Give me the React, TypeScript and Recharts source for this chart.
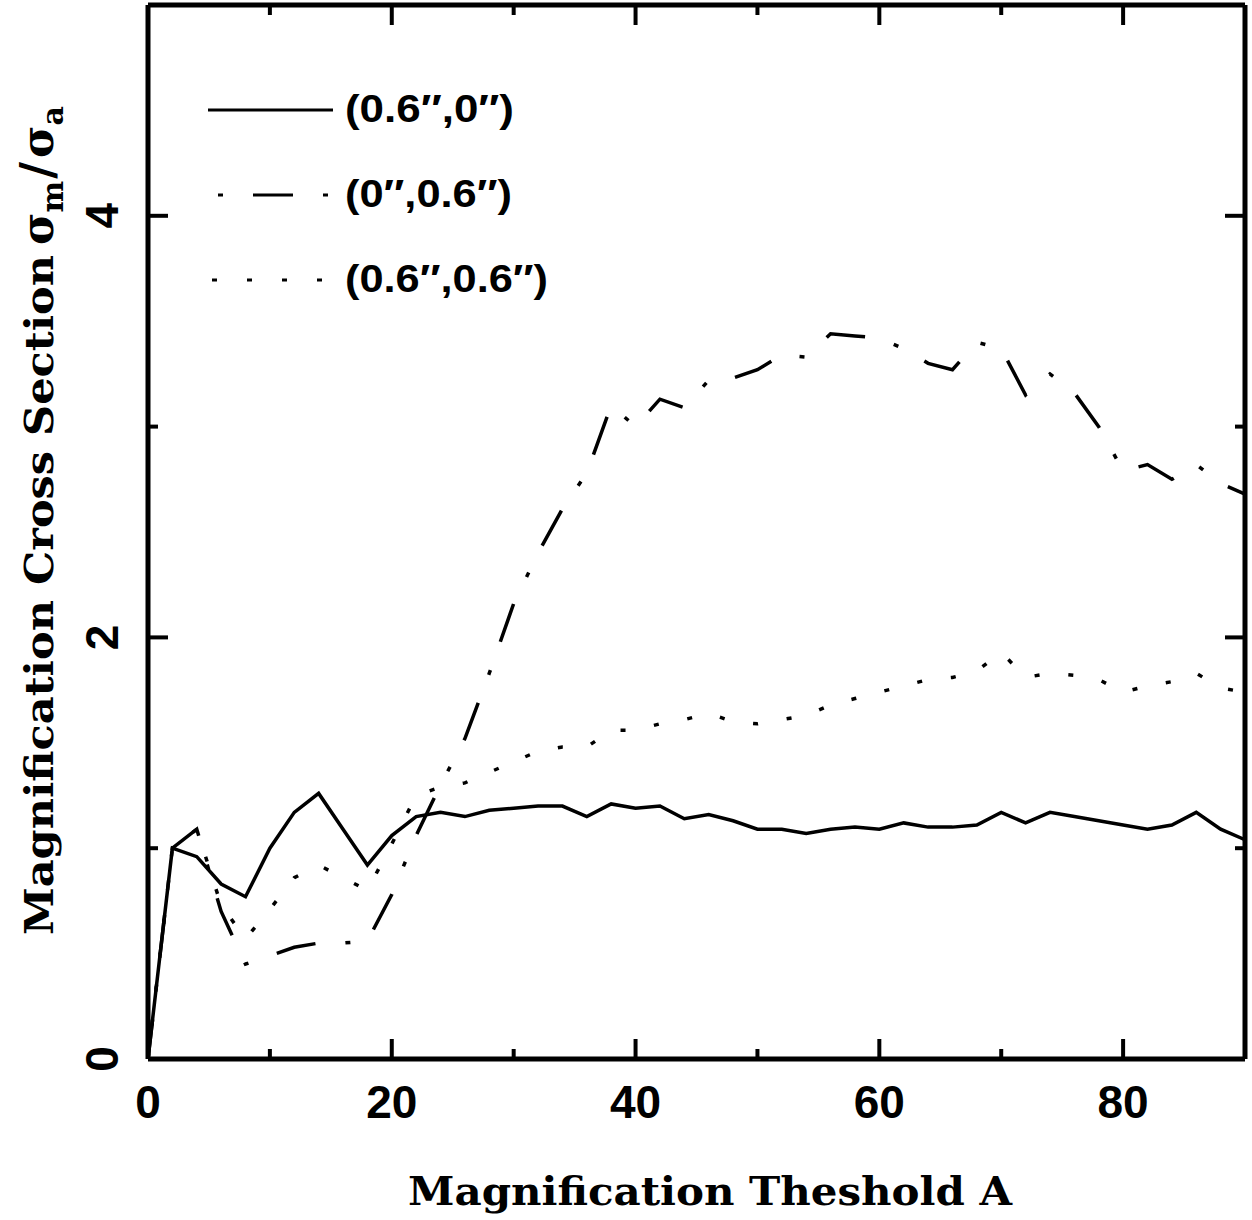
import React from "react";
import { Legend, Line, LineChart, XAxis, YAxis } from "recharts";

// magnification threshold A, sampled every 2
const THRESHOLD = [
  0, 2, 4, 6, 8, 10, 12, 14, 16, 18, 20, 22, 24, 26, 28, 30, 32, 34, 36, 38,
  40, 42, 44, 46, 48, 50, 52, 54, 56, 58, 60, 62, 64, 66, 68, 70, 72, 74, 76,
  78, 80, 82, 84, 86, 88, 90,
];

// (0.6",0") - solid
const SOLID = [
  0, 1.0, 0.96, 0.83, 0.77, 1.0, 1.17, 1.26, 1.09, 0.92, 1.06, 1.15, 1.17,
  1.15, 1.18, 1.19, 1.2, 1.2, 1.15, 1.21, 1.19, 1.2, 1.14, 1.16, 1.13, 1.09,
  1.09, 1.07, 1.09, 1.1, 1.09, 1.12, 1.1, 1.1, 1.11, 1.17, 1.12, 1.17, 1.15,
  1.13, 1.11, 1.09, 1.11, 1.17, 1.09, 1.04,
];

// (0",0.6") - dot / long dash
const DASH_DOT = [
  0, 1.0, 1.09, 0.7, 0.45, 0.49, 0.53, 0.55, 0.55, 0.56, 0.78, 1.06, 1.3,
  1.52, 1.83, 2.16, 2.4, 2.61, 2.78, 3.1, 3.0, 3.13, 3.09, 3.22, 3.23, 3.27,
  3.34, 3.33, 3.44, 3.43, 3.42, 3.37, 3.3, 3.27, 3.4, 3.37, 3.15, 3.25, 3.16,
  3.0, 2.79, 2.82, 2.75, 2.82, 2.73, 2.68,
];

// (0.6",0.6") - dotted
const DOTTED = [
  0, 1.0, 1.09, 0.73, 0.57, 0.71, 0.86, 0.92, 0.86, 0.8, 1.02, 1.25, 1.29,
  1.31, 1.36, 1.41, 1.46, 1.48, 1.48, 1.56, 1.56, 1.59, 1.61, 1.64, 1.6, 1.59,
  1.61, 1.63, 1.68, 1.71, 1.74, 1.77, 1.8, 1.81, 1.84, 1.93, 1.81, 1.83, 1.82,
  1.8, 1.74, 1.77, 1.79, 1.83, 1.76, 1.74,
];

const X_TICKS = [0, 10, 20, 30, 40, 50, 60, 70, 80];
const Y_TICKS = [0, 1, 2, 3, 4];

const SERIES = [
  { key: "solid", name: "(0.6″,0″)", dash: undefined, legendDash: undefined, x1: 8, width: 169 },
  { key: "dashdot", name: "(0″,0.6″)", dash: "40 30 5 30", legendDash: "5 30 40 30", x1: 18, width: 167 },
  { key: "dotted", name: "(0.6″,0.6″)", dash: "5 29", legendDash: "5 30", x1: 12, width: 203 },
];

const data = THRESHOLD.map((a, i) => ({
  a,
  solid: SOLID[i],
  dashdot: DASH_DOT[i],
  dotted: DOTTED[i],
}));

const NUM_FONT = "'Liberation Sans', Arial, sans-serif";
const TITLE_FONT = "'DejaVu Serif', serif";
const FRAME = { stroke: "#000", strokeWidth: 5 };

const BottomTick = ({ x, y, payload }: any) => {
  const major = payload.value % 20 === 0;
  return (
    <g>
      <line x1={x} x2={x} y1={y} y2={y - (major ? 20 : 10)} stroke="#000" strokeWidth={4} />
      {major && (
        <text x={x} y={y + 59} textAnchor="middle" fontFamily={NUM_FONT} fontWeight="bold" fontSize={46} fill="#000">
          {payload.value}
        </text>
      )}
    </g>
  );
};

const TopTick = ({ x, y, payload }: any) => {
  const major = payload.value % 20 === 0;
  return <line x1={x} x2={x} y1={y} y2={y + (major ? 20 : 10)} stroke="#000" strokeWidth={4} />;
};

const LeftTick = ({ x, y, payload }: any) => {
  const major = payload.value % 2 === 0;
  const lx = x - 30;
  return (
    <g>
      <line x1={x} x2={x + (major ? 20 : 10)} y1={y} y2={y} stroke="#000" strokeWidth={4} />
      {major && (
        <text
          x={lx}
          y={y}
          transform={`rotate(-90, ${lx}, ${y})`}
          textAnchor="middle"
          fontFamily={NUM_FONT}
          fontWeight="bold"
          fontSize={46}
          fill="#000"
        >
          {payload.value}
        </text>
      )}
    </g>
  );
};

const RightTick = ({ x, y, payload }: any) => {
  const major = payload.value % 2 === 0;
  return <line x1={x} x2={x - (major ? 20 : 10)} y1={y} y2={y} stroke="#000" strokeWidth={4} />;
};

const XTitle = () => (
  <text
    x={408}
    y={1205}
    textLength={604}
    lengthAdjust="spacingAndGlyphs"
    fontFamily={TITLE_FONT}
    fontWeight="bold"
    fontSize={40}
    fill="#000"
  >
    Magnification Theshold A
  </text>
);

const YTitle = () => (
  <g fill="#000">
    <text
      transform="translate(53,935) rotate(-90)"
      textLength={680}
      lengthAdjust="spacingAndGlyphs"
      fontFamily={TITLE_FONT}
      fontWeight="bold"
      fontSize={40}
    >
      Magnification Cross Section
    </text>
    <text transform="translate(53,245) rotate(-90)" fontFamily="'DejaVu Serif', serif" fontWeight="bold" fontSize={44}>
      σ
      <tspan fontSize={30} dy={10}>m</tspan>
      <tspan fontSize={46} dy={-10} dx={2}>/</tspan>
      <tspan fontSize={44} dx={4}>σ</tspan>
      <tspan fontSize={30} dy={10}>a</tspan>
    </text>
  </g>
);

const LegendBox = () => (
  <svg width={380} height={240}>
    {SERIES.map((s, i) => {
      const cy = 40 + i * 85;
      return (
        <g key={s.key}>
          <line x1={s.x1} x2={133} y1={cy} y2={cy} stroke="#000" strokeWidth={3} strokeDasharray={s.legendDash} />
          <text
            x={145}
            y={cy + 12}
            textLength={s.width}
            lengthAdjust="spacingAndGlyphs"
            fontFamily={NUM_FONT}
            fontWeight="bold"
            fontSize={39}
            fill="#000"
          >
            {s.name}
          </text>
        </g>
      );
    })}
  </svg>
);

export default function App() {
  return (
    <div style={{ position: "absolute", left: 0, top: 0, background: "#fff" }}>
      <LineChart width={1252} height={1220} data={data} margin={{ top: 4, right: 6, left: 0, bottom: 0 }}>
        <XAxis
          dataKey="a"
          type="number"
          domain={[0, 90]}
          ticks={X_TICKS}
          interval={0}
          height={161}
          tickSize={0}
          tickMargin={0}
          tickLine={false}
          tick={<BottomTick />}
          axisLine={FRAME}
          label={XTitle}
        />
        <XAxis
          xAxisId="top"
          dataKey="a"
          orientation="top"
          type="number"
          domain={[0, 90]}
          ticks={X_TICKS}
          interval={0}
          height={1}
          tickSize={0}
          tickMargin={0}
          tickLine={false}
          tick={<TopTick />}
          axisLine={FRAME}
        />
        <YAxis
          type="number"
          domain={[0, 5]}
          ticks={Y_TICKS}
          interval={0}
          width={148}
          tickSize={0}
          tickMargin={0}
          tickLine={false}
          tick={<LeftTick />}
          axisLine={FRAME}
          label={YTitle}
        />
        <YAxis
          yAxisId="right"
          orientation="right"
          type="number"
          domain={[0, 5]}
          ticks={Y_TICKS}
          interval={0}
          width={1}
          tickSize={0}
          tickMargin={0}
          tickLine={false}
          tick={<RightTick />}
          axisLine={FRAME}
        />
        <Legend
          layout="vertical"
          align="center"
          verticalAlign="middle"
          content={LegendBox}
          wrapperStyle={{ left: 200, top: 70, width: 380, height: 240 }}
        />
        {SERIES.map((s) => (
          <Line
            key={s.key}
            dataKey={s.key}
            name={s.name}
            type="linear"
            stroke="#000"
            strokeWidth={3.5}
            strokeDasharray={s.dash}
            dot={false}
            activeDot={false}
            isAnimationActive={false}
          />
        ))}
        {/* invisible copy so the top and right frame axes get a domain */}
        <Line
          xAxisId="top"
          yAxisId="right"
          dataKey="solid"
          stroke="none"
          legendType="none"
          dot={false}
          activeDot={false}
          isAnimationActive={false}
        />
      </LineChart>
    </div>
  );
}
